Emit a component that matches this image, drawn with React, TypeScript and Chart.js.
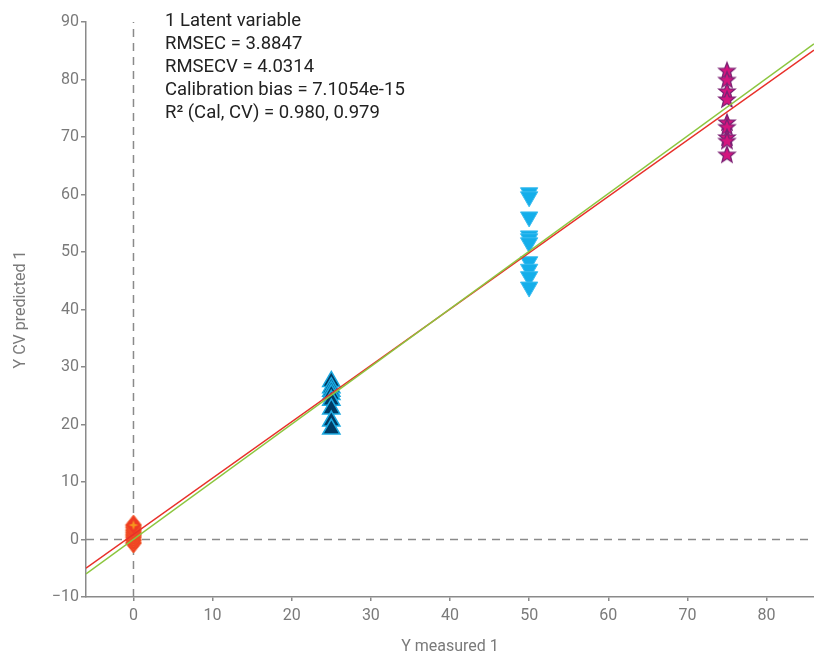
import React, { useEffect, useRef } from "react";
import { Chart, registerables } from "chart.js";

Chart.register(...registerables);

// ---- data ----
const xTickValues = [0, 10, 20, 30, 40, 50, 60, 70, 80];
const xMin = -6;
const xMax = 86;
const yMin = -10;
const yMax = 90;

const diamondsX = 0;
const diamondsY = [-0.6, -0.1, 0.4, 0.8, 1.2, 1.6, 2.1, 2.5];
const upTriX = 25;
const upTriY = [27.5, 26.4, 25.8, 25.2, 24.2, 22.7, 20.6, 19.2];
const downTriX = 50;
const downTriY = [60.3, 59.6, 56.1, 52.8, 52.3, 51.6, 48.3, 47.0, 45.7, 43.9];
const starsX = 75;
const starsY = [81.6, 80.0, 78.0, 76.6, 72.6, 71.8, 70.0, 69.4, 67.0];

const lineX = [-6, 86];
const redLineY = [-5.0, 85.1];
const greenLineY = [-6.0, 86.2];

const annotationLines = [
  "1 Latent variable",
  "RMSEC = 3.8847",
  "RMSECV = 4.0314",
  "Calibration bias = 7.1054e-15",
  "R\u00B2 (Cal, CV) = 0.980, 0.979",
];

const xTitle = "Y measured 1";
const yTitle = "Y CV predicted 1";

function makeStar(): HTMLCanvasElement {
  const c = document.createElement("canvas");
  const s = 20;
  c.width = s;
  c.height = s;
  const ctx = c.getContext("2d")!;
  const cx = s / 2;
  const cy = s / 2 + 0.8;
  const outer = 8.6;
  const inner = 3.7;
  ctx.beginPath();
  for (let i = 0; i < 10; i++) {
    const r = i % 2 === 0 ? outer : inner;
    const a = -Math.PI / 2 + (i * Math.PI) / 5;
    const px = cx + r * Math.cos(a);
    const py = cy + r * Math.sin(a);
    if (i === 0) ctx.moveTo(px, py);
    else ctx.lineTo(px, py);
  }
  ctx.closePath();
  ctx.fillStyle = "#d4157f";
  ctx.fill();
  ctx.lineWidth = 1.3;
  ctx.strokeStyle = "#7d2275";
  ctx.stroke();
  return c;
}

function makeDiamond(): HTMLCanvasElement {
  const c = document.createElement("canvas");
  const w = 18;
  const h = 22;
  c.width = w;
  c.height = h;
  const ctx = c.getContext("2d")!;
  const cx = w / 2;
  const cy = h / 2;
  ctx.beginPath();
  ctx.moveTo(cx, 1);
  ctx.lineTo(w - 1, cy);
  ctx.lineTo(cx, h - 1);
  ctx.lineTo(1, cy);
  ctx.closePath();
  ctx.fillStyle = "#ef3b24";
  ctx.fill();
  ctx.lineWidth = 1;
  ctx.strokeStyle = "#f05a28";
  ctx.stroke();
  const r1 = 5;
  const r2 = 1.8;
  ctx.beginPath();
  for (let i = 0; i < 8; i++) {
    const r = i % 2 === 0 ? r1 : r2;
    const a = -Math.PI / 2 + (i * Math.PI) / 4;
    const px = cx + r * Math.cos(a);
    const py = cy + r * Math.sin(a);
    if (i === 0) ctx.moveTo(px, py);
    else ctx.lineTo(px, py);
  }
  ctx.closePath();
  ctx.fillStyle = "#f7941d";
  ctx.fill();
  return c;
}

const annotationPlugin = {
  id: "annot",
  afterDraw(chart: any) {
    const ctx = chart.ctx;
    ctx.save();
    ctx.font = "18.5px Roboto";
    ctx.fillStyle = "#222";
    ctx.textBaseline = "middle";
    ctx.textAlign = "left";
    annotationLines.forEach((t, i) => {
      ctx.fillText(t, 165, 21 + i * 23);
    });
    ctx.restore();
  },
};

export default function App() {
  const ref = useRef<HTMLCanvasElement>(null);
  useEffect(() => {
    const star = makeStar();
    const diamond = makeDiamond();
    const gray = "#8a8a8a";
    const tickColor = "#7a7a7a";
    const chart = new Chart(ref.current!, {
      type: "scatter",
      data: {
        datasets: [
          {
            type: "line",
            data: lineX.map((x, i) => ({ x, y: greenLineY[i] })),
            borderColor: "#8cc63f",
            borderWidth: 1.5,
            pointRadius: 0,
            order: 0,
          } as any,
          {
            type: "line",
            data: lineX.map((x, i) => ({ x, y: redLineY[i] })),
            borderColor: "#e8302a",
            borderWidth: 1.5,
            pointRadius: 0,
            order: 0,
          } as any,
          {
            data: starsY.map((y) => ({ x: starsX, y })),
            pointStyle: star,
            order: 1,
          },
          {
            data: downTriY.map((y) => ({ x: downTriX, y })),
            pointStyle: "triangle",
            rotation: 180,
            pointRadius: 10,
            backgroundColor: "#14aeea",
            borderColor: "#3cbdf0",
            borderWidth: 1,
            order: 1,
          },
          {
            data: upTriY.map((y) => ({ x: upTriX, y })),
            pointStyle: "triangle",
            pointRadius: 10,
            backgroundColor: "#003b64",
            borderColor: "#1ba9e1",
            borderWidth: 1.5,
            order: 1,
          },
          {
            data: diamondsY.map((y) => ({ x: diamondsX, y })),
            pointStyle: diamond,
            order: 1,
          },
          {
            type: "line",
            data: [
              { x: 0, y: yMin },
              { x: 0, y: yMax },
            ],
            borderColor: gray,
            borderWidth: 1.5,
            borderDash: [8, 6],
            pointRadius: 0,
            order: 2,
          } as any,
          {
            type: "line",
            data: [
              { x: xMin, y: 0 },
              { x: xMax, y: 0 },
            ],
            borderColor: gray,
            borderWidth: 1.5,
            borderDash: [8, 6],
            pointRadius: 0,
            order: 2,
          } as any,
        ],
      },
      options: {
        animation: false,
        responsive: false,
        maintainAspectRatio: false,
        layout: { autoPadding: false, padding: { top: 22, right: 0, left: 0, bottom: 0 } },
        plugins: { legend: { display: false }, tooltip: { enabled: false } },
        scales: {
          x: {
            type: "linear",
            min: xMin,
            max: xMax,
            afterBuildTicks: (scale: any) => {
              scale.ticks = xTickValues.map((v) => ({ value: v }));
            },
            afterFit: (scale: any) => {
              scale.height = 57;
              scale.paddingLeft = 0;
              scale.paddingRight = 0;
            },
            ticks: {
              color: tickColor,
              font: { family: "Roboto", size: 16 },
              padding: 5,
              maxRotation: 0,
              callback: (v: any) => String(v).replace("-", "\u2212"),
            },
            grid: {
              drawOnChartArea: false,
              drawTicks: true,
              tickLength: 4,
              color: gray,
              lineWidth: 1.5,
            },
            border: { display: true, color: gray, width: 1.5 },
            title: {
              display: true,
              text: xTitle,
              color: tickColor,
              font: { family: "Roboto", size: 16, lineHeight: 0.85 },
              padding: { top: 0, bottom: 0 },
            },
          },
          y: {
            type: "linear",
            min: yMin,
            max: yMax,
            afterFit: (scale: any) => {
              scale.width = 86;
            },
            ticks: {
              stepSize: 10,
              color: tickColor,
              font: { family: "Roboto", size: 16 },
              padding: 2,
              callback: (v: any) => String(v).replace("-", "\u2212"),
            },
            grid: {
              drawOnChartArea: false,
              drawTicks: true,
              tickLength: 5,
              color: gray,
              lineWidth: 1.5,
            },
            border: { display: true, color: gray, width: 1.5 },
            title: {
              display: true,
              text: yTitle,
              color: tickColor,
              font: { family: "Roboto", size: 16 },
              padding: { top: 11, bottom: 0 },
            },
          },
        },
      },
      plugins: [annotationPlugin],
    });
    return () => chart.destroy();
  }, []);
  return (
    <div style={{ position: "absolute", left: 0, top: 0, width: 814, height: 654 }}>
      <canvas ref={ref} width={814} height={654} style={{ display: "block" }} />
    </div>
  );
}
